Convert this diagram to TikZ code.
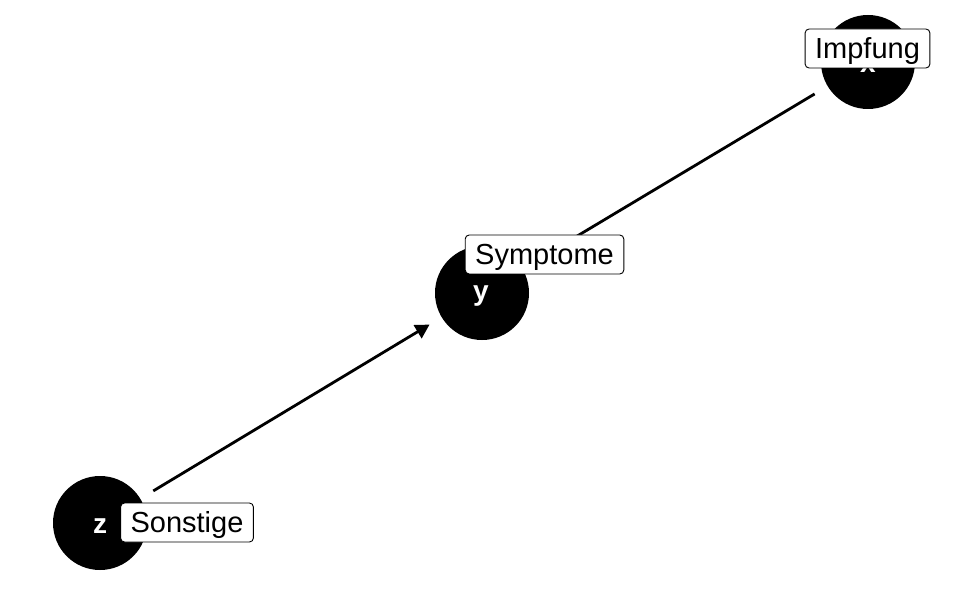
\documentclass[tikz,border=0pt]{standalone}
\usepackage{fontspec}
\setmainfont{Liberation Sans}
\usetikzlibrary{arrows.meta}
\begin{document}
\begin{tikzpicture}[x=1pt,y=-1pt,
  dagnode/.style={circle,fill=black,minimum size=94pt,inner sep=0pt,text=white,font=\fontsize{28}{30}\selectfont\bfseries},
  dagletter/.style={text=white,font=\fontsize{28}{30}\selectfont\bfseries,inner sep=0pt},
  dagedge/.style={line width=2.8pt,-{Triangle[length=14pt,width=15pt]},shorten >=14pt,shorten <=15pt},
  daglabel/.style={draw=black,line width=0.9pt,fill=white,rounded corners=4pt,inner xsep=10pt,inner ysep=5.5pt,
    font=\fontsize{29}{31}\selectfont,text height=24pt,text depth=4pt}]
\useasboundingbox (0,0) rectangle (960,593);
\node[dagnode] (x) at (868,62) {};
\node[dagnode] (y) at (482,293) {};
\node[dagnode] (z) at (100,523) {};
\node[dagletter] (tx) at (868,65) {x};
\node[dagletter] (ty) at (481,296) {y};
\node[dagletter] (tz) at (100,526) {z};
\draw[dagedge] (x) -- (y);
\draw[dagedge] (z) -- (y);
\node[daglabel] (lx) at (867.5,48.5) {Impfung};
\node[daglabel] (ly) at (544.5,254.5) {Symptome};
\node[daglabel] (lz) at (187,522.5) {Sonstige};
\end{tikzpicture}
\end{document}
